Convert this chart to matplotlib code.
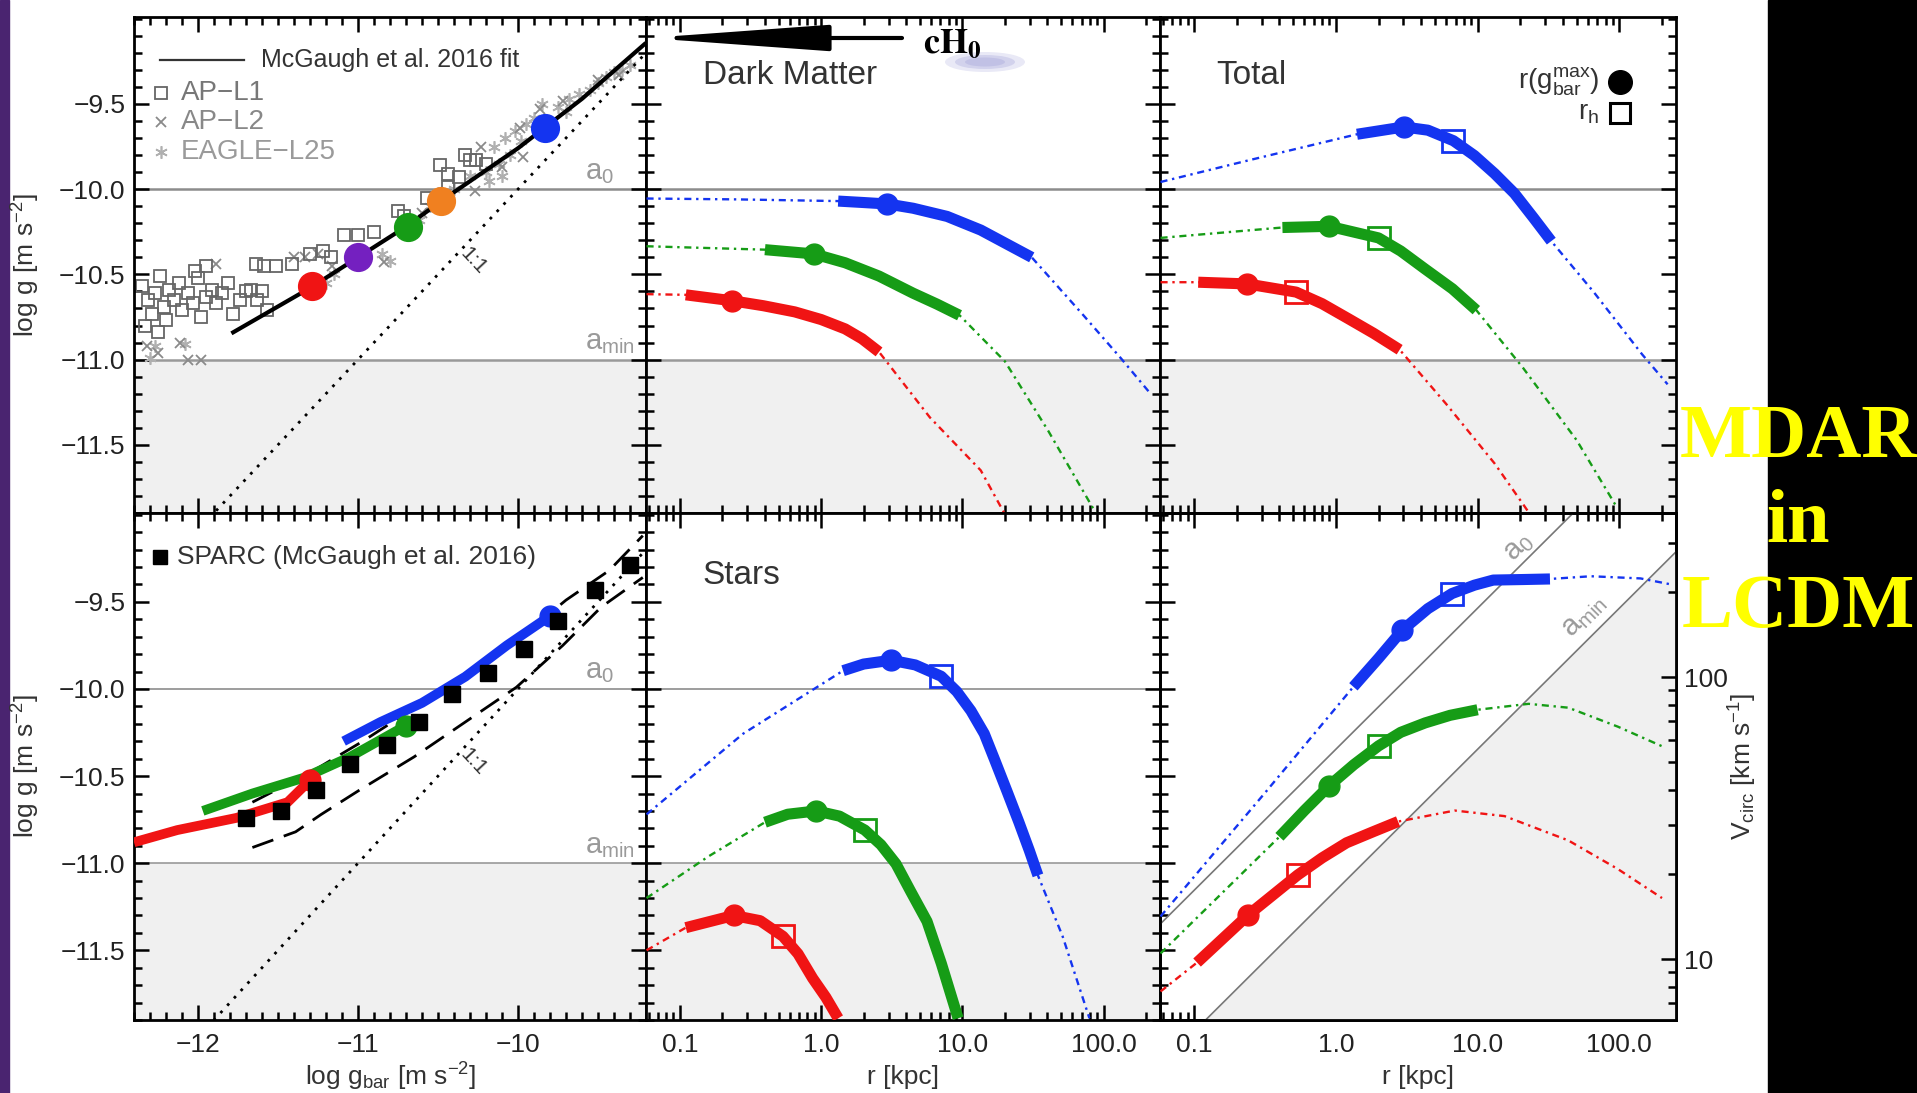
import numpy as np
import matplotlib.pyplot as plt
from matplotlib.ticker import MultipleLocator, FixedLocator, LogLocator, NullFormatter, FuncFormatter
from matplotlib.patches import Rectangle, Ellipse

plt.rcParams['font.family'] = ['Liberation Sans', 'DejaVu Sans']
plt.rcParams['mathtext.fontset'] = 'custom'
plt.rcParams['mathtext.rm'] = 'Liberation Sans'
plt.rcParams['mathtext.it'] = 'Liberation Sans:italic'
plt.rcParams['mathtext.bf'] = 'Liberation Sans:bold'

# ---------------- data ----------------
# top-left: simulated galaxies, log g vs log g_bar
apl1_x = [-12.35, -12.31, -12.29, -12.27, -12.24, -12.21, -12.20, -12.18, -12.15, -12.12,
          -12.10, -12.06, -12.03, -12.00, -11.98, -11.95, -11.91, -11.89, -11.85, -11.81,
          -11.78, -11.74, -11.70, -11.67, -11.63, -11.60, -11.57, -12.02, -11.95, -11.64,
          -11.59, -11.51, -11.41, -11.30, -11.22, -11.17, -11.09, -11.00, -10.90, -10.75,
          -10.71, -10.49, -10.44, -10.33, -10.30, -10.26, -10.20, -10.44, -10.37, -10.57,
          -12.33, -12.25]
apl1_y = [-10.57, -10.65, -10.73, -10.61, -10.51, -10.69, -10.77, -10.59, -10.65, -10.55,
          -10.71, -10.61, -10.67, -10.52, -10.75, -10.63, -10.59, -10.67, -10.61, -10.55,
          -10.73, -10.65, -10.60, -10.59, -10.65, -10.60, -10.71, -10.48, -10.45, -10.44,
          -10.45, -10.45, -10.44, -10.38, -10.36, -10.40, -10.27, -10.27, -10.25, -10.13,
          -10.16, -9.86, -9.91, -9.80, -9.83, -9.83, -9.85, -9.99, -9.93, -10.05,
          -10.80, -10.84]
apl2_x = [-12.32, -12.11, -11.89, -11.40, -11.33, -11.25, -11.16, -10.84, -10.60, -10.27,
          -10.23, -9.97, -9.99, -9.86, -9.72, -9.50, -9.37, -10.10, -12.06, -11.98, -12.25]
apl2_y = [-10.92, -10.90, -10.44, -10.40, -10.40, -10.38, -10.45, -10.43, -10.14, -10.01,
          -9.75, -9.81, -9.64, -9.53, -9.48, -9.36, -9.33, -9.87, -11.00, -11.00, -10.96]
eagle_x = [-10.20, -10.15, -10.12, -10.08, -10.05, -10.02, -9.98, -9.95, -10.10, -10.18,
           -9.90, -9.80, -9.75, -9.68, -9.62, -9.55, -9.50, -9.45, -9.40, -9.35, -9.30,
           -10.55, -10.50, -10.45, -10.62, -10.85, -10.80, -11.20, -11.15, -12.27, -12.08,
           -12.30, -10.40, -10.30, -9.85, -9.70]
eagle_y = [-9.90, -9.75, -9.85, -9.70, -9.80, -9.66, -9.72, -9.62, -9.92, -9.95,
           -9.58, -9.60, -9.52, -9.47, -9.44, -9.42, -9.38, -9.34, -9.31, -9.30, -9.27,
           -10.10, -10.02, -10.08, -10.18, -10.38, -10.42, -10.55, -10.50, -10.92, -10.91,
           -10.99, -10.00, -9.92, -9.50, -9.55]
fit_x = [-11.78, -11.30, -11.00, -10.70, -10.45, -10.00, -9.60, -9.21]
fit_y = [-10.84, -10.58, -10.40, -10.22, -10.05, -9.76, -9.47, -9.15]
gal_x = [-11.29, -11.00, -10.69, -10.48, -9.83]
gal_y = [-10.57, -10.40, -10.22, -10.07, -9.64]
one_to_one = [-12.4, -9.2]

# bottom-left: SPARC and three galaxies
sparc_x = [-11.70, -11.48, -11.26, -11.05, -10.82, -10.62, -10.41, -10.19, -9.96, -9.75, -9.52, -9.30]
sparc_y = [-10.74, -10.70, -10.58, -10.43, -10.32, -10.19, -10.03, -9.91, -9.77, -9.61, -9.43, -9.29]
env_up_x = [-11.66, -11.28, -10.97, -10.60, -10.28, -9.99, -9.70, -9.43, -9.22]
env_up_y = [-10.65, -10.47, -10.30, -10.08, -9.88, -9.71, -9.49, -9.32, -9.12]
env_lo_x = [-11.66, -11.39, -11.23, -10.99, -10.65, -10.33, -10.01, -9.72, -9.48, -9.22]
env_lo_y = [-10.91, -10.82, -10.72, -10.58, -10.39, -10.19, -9.99, -9.75, -9.53, -9.36]
mdar_red_x = [-12.40, -12.13, -11.76, -11.44, -11.34, -11.30]
mdar_red_y = [-10.88, -10.81, -10.74, -10.65, -10.56, -10.52]
mdar_green_x = [-11.97, -11.66, -11.34, -11.05, -10.70]
mdar_green_y = [-10.70, -10.60, -10.51, -10.39, -10.21]
mdar_blue_x = [-11.09, -10.86, -10.60, -10.33, -10.07, -9.83, -9.80]
mdar_blue_y = [-10.30, -10.19, -10.08, -9.93, -9.75, -9.60, -9.58]

# dark matter acceleration profiles (r in kpc, log g)
dm_r_blue = [0.058, 0.25, 1.32, 1.95, 2.95, 4.48, 7.8, 13.5, 21.1, 31.0, 72.0, 132.0, 215.0]
dm_g_blue = [-10.055, -10.06, -10.07, -10.078, -10.087, -10.112, -10.16, -10.24, -10.326, -10.40,
             -10.74, -10.99, -11.20]
dm_r_green = [0.058, 0.40, 0.89, 1.48, 2.57, 4.47, 6.59, 9.55, 20.0, 40.7, 91.0]
dm_g_green = [-10.335, -10.355, -10.38, -10.432, -10.51, -10.61, -10.674, -10.74, -11.01, -11.42, -11.92]
dm_r_red = [0.058, 0.11, 0.235, 0.39, 0.65, 1.0, 1.48, 1.95, 2.57, 5.9, 13.5, 20.4]
dm_g_red = [-10.616, -10.62, -10.655, -10.684, -10.72, -10.765, -10.82, -10.878, -10.955,
            -11.34, -11.65, -11.92]

# total acceleration profiles
tot_r_blue = [0.058, 0.245, 1.41, 3.02, 4.46, 6.76, 9.5, 13.2, 18.2, 24.9, 33.1, 66.0, 145.0, 219.0]
tot_g_blue = [-9.958, -9.83, -9.678, -9.635, -9.654, -9.716, -9.803, -9.909, -10.025, -10.17,
              -10.305, -10.604, -10.97, -11.145]
tot_r_green = [0.058, 0.42, 0.90, 2.0, 2.87, 4.27, 6.65, 9.8, 20.9, 50.0, 95.0]
tot_g_green = [-10.286, -10.225, -10.218, -10.286, -10.363, -10.469, -10.585, -10.71, -11.048,
               -11.473, -11.86]
tot_r_red = [0.058, 0.107, 0.237, 0.525, 0.8, 1.22, 1.85, 2.82, 6.0, 13.2, 21.4, 24.0]
tot_g_red = [-10.546, -10.546, -10.556, -10.604, -10.672, -10.759, -10.846, -10.942, -11.26,
             -11.61, -11.86, -11.92]

# stellar acceleration profiles
st_r_blue = [0.058, 0.28, 1.43, 2.0, 3.14, 4.64, 7.08, 9.14, 11.5, 14.3, 17.0, 20.7, 25.1, 29.8,
             34.3, 51.3, 79.4]
st_g_blue = [-10.72, -10.257, -9.895, -9.857, -9.835, -9.862, -9.927, -10.015, -10.125, -10.257,
             -10.41, -10.587, -10.763, -10.927, -11.07, -11.42, -11.89]
st_r_green = [0.058, 0.16, 0.40, 0.58, 0.925, 1.35, 2.04, 2.65, 3.39, 4.28, 5.62, 7.1, 9.33]
st_g_green = [-11.20, -10.96, -10.765, -10.719, -10.70, -10.73, -10.81, -10.894, -11.004, -11.158,
              -11.334, -11.576, -11.89]
st_r_red = [0.058, 0.11, 0.24, 0.37, 0.537, 0.686, 0.87, 1.08, 1.32]
st_g_red = [-11.50, -11.37, -11.30, -11.33, -11.42, -11.52, -11.66, -11.77, -11.89]

# circular velocity curves (r in kpc, V in km/s)
vc_r_blue = [0.058, 0.32, 1.33, 2.0, 2.95, 4.46, 6.6, 9.5, 12.9, 21.2, 32.4, 63.0, 141.0, 224.0]
vc_v_blue = [14.2, 39.2, 92.5, 116.7, 147.0, 175.0, 198.0, 212.0, 221.0, 222.0, 223.0, 228.0,
             224.0, 214.0]
vc_r_green = [0.058, 0.40, 0.60, 0.90, 1.34, 2.0, 2.87, 4.27, 6.4, 10.0, 22.9, 43.7, 97.7, 209.0]
vc_v_green = [10.5, 27.2, 33.7, 41.3, 49.0, 57.1, 63.8, 68.9, 73.3, 76.7, 80.5, 78.0, 66.8, 56.4]
vc_r_red = [0.058, 0.105, 0.242, 0.537, 0.80, 1.19, 1.85, 2.75, 6.9, 15.5, 43.7, 97.7, 200.0]
vc_v_red = [7.7, 9.75, 14.4, 19.9, 22.9, 25.9, 28.4, 30.8, 33.7, 32.2, 26.4, 20.9, 16.5]

# index range of the resolved (thick) part, r(g_bar max) marker, r_h marker
dm_thick = {'blue': (2, 9), 'green': (1, 7), 'red': (1, 8)}
dm_circ = {'blue': (2.95, -10.087), 'green': (0.89, -10.38), 'red': (0.235, -10.655)}
tot_thick = {'blue': (2, 10), 'green': (1, 7), 'red': (1, 7)}
tot_circ = {'blue': (3.02, -9.635), 'green': (0.90, -10.218), 'red': (0.237, -10.556)}
tot_sq = {'blue': (6.76, -9.716), 'green': (2.0, -10.286), 'red': (0.525, -10.604)}
st_thick = {'blue': (2, 14), 'green': (2, 12), 'red': (1, 8)}
st_circ = {'blue': (3.14, -9.835), 'green': (0.925, -10.70), 'red': (0.24, -11.30)}
st_sq = {'blue': (7.08, -9.927), 'green': (2.04, -10.81), 'red': (0.537, -11.42)}
vc_thick = {'blue': (2, 10), 'green': (1, 9), 'red': (1, 7)}
vc_circ = {'blue': (2.95, 147.0), 'green': (0.90, 41.3), 'red': (0.242, 14.4)}
vc_sq = {'blue': (6.6, 198.0), 'green': (2.0, 57.1), 'red': (0.537, 19.9)}

log_a0 = -10.0
log_amin = -11.0
kpc = 3.086e19

r_ticks = [0.1, 1.0, 10.0, 100.0]
r_ticklabels = ['0.1', '1.0', '10.0', '100.0']
g_ticks = [-11.5, -11.0, -10.5, -10.0, -9.5]
gbar_ticks = [-12, -11, -10]

# ---------------- styles ----------------
RED, GREEN, BLUE = '#f01414', '#169c16', '#1434f0'
PURPLE, ORANGE = '#7420c0', '#f08020'
SHADE = '#f0f0f0'
GREY = '#8c8c8c'
DOT = (0, (3, 2, 1, 2))

W, H = 1917, 1093
fig = plt.figure(figsize=(W / 100, H / 100), dpi=100)
fig.patch.set_facecolor('white')


def px_box(x0, y0, x1, y1):
    return [x0 / W, 1 - y1 / H, (x1 - x0) / W, (y1 - y0) / H]


col_x = [134, 646, 1160, 1676]
row_y = [17, 513, 1020]
axs = [[fig.add_axes(px_box(col_x[c], row_y[r], col_x[c + 1], row_y[r + 1]))
        for c in range(3)] for r in range(2)]

minus = lambda s: s.replace('-', '\u2212')


def style(ax, logx, row, col):
    for s in ax.spines.values():
        s.set_linewidth(2)
    ax.tick_params(which='both', direction='in', top=True, right=True, width=1.8,
                   labelsize=19, labelcolor='#222222')
    ax.tick_params(which='major', length=11)
    ax.tick_params(which='minor', length=6)
    ax.tick_params(axis='x', pad=9)
    ax.tick_params(axis='y', pad=6)
    ax.set_ylim(-11.9, -8.99)
    ax.yaxis.set_major_locator(FixedLocator(g_ticks))
    ax.yaxis.set_minor_locator(MultipleLocator(0.1))
    ax.yaxis.set_major_formatter(FuncFormatter(lambda v, p: minus(f'{v:.1f}')))
    if logx:
        ax.set_xscale('log')
        ax.set_xlim(0.0575, 251)
        ax.set_xticks(r_ticks)
        ax.set_xticklabels(r_ticklabels)
        ax.xaxis.set_minor_locator(LogLocator(base=10, subs=np.arange(2, 10)))
        ax.xaxis.set_minor_formatter(NullFormatter())
    else:
        ax.set_xlim(-12.4, -9.2)
        ax.xaxis.set_major_locator(FixedLocator(gbar_ticks))
        ax.xaxis.set_minor_locator(MultipleLocator(0.1))
        ax.xaxis.set_major_formatter(FuncFormatter(lambda v, p: minus(f'{v:.0f}')))
    ax.tick_params(labelbottom=(row == 1), labelleft=(col == 0))


for r in range(2):
    for c in range(3):
        style(axs[r][c], c > 0, r, c)

# horizontal reference lines and shading (all panels but bottom-right)
for r in range(2):
    for c in range(3):
        if r == 1 and c == 2:
            continue
        ax = axs[r][c]
        ax.axhspan(-12.5, log_amin, color=SHADE, zorder=0, lw=0)
        lw = 1.8 if r == 0 else 1.2
        ax.axhline(log_a0, color=GREY, lw=lw, zorder=1)
        ax.axhline(log_amin, color='#999999', lw=lw, zorder=1)

# ---- left panels: labels a0 / amin and 1:1 ----
for ax in (axs[0][0], axs[1][0]):
    ax.text(0.88, log_a0 + 0.02, r'a$_0$', transform=ax.get_yaxis_transform(),
            color='#9a9a9a', fontsize=21, va='bottom', ha='left')
    ax.text(0.88, log_amin + 0.02, r'a$_{\rm min}$', transform=ax.get_yaxis_transform(),
            color='#9a9a9a', fontsize=21, va='bottom', ha='left')
    ax.plot(one_to_one, one_to_one, color='k', lw=2, ls=(0, (1, 2.6)), zorder=3)
    ax.text(-10.28, -10.42, '1:1', fontsize=15, rotation=-47, color='#333333',
            ha='center', va='center', zorder=3)

# ---- top-left ----
ax = axs[0][0]
ax.plot(eagle_x, eagle_y, ls='none', marker=(6, 2, 0), ms=9, mew=1.2, color='#b0b0b0', zorder=2)
ax.plot(apl2_x, apl2_y, ls='none', marker='x', ms=7, mew=1.3, color='#8a8a8a', zorder=2)
ax.plot(apl1_x, apl1_y, ls='none', marker='s', ms=8, mew=1.3, mfc='none', mec='#666666', zorder=2)
ax.plot(fit_x, fit_y, color='k', lw=3, zorder=4)
for x, y, col in zip(gal_x, gal_y, [RED, PURPLE, GREEN, ORANGE, BLUE]):
    ax.plot(x, y, 'o', ms=20, color=col, zorder=5)
ax.plot([0.051, 0.215], [0.913, 0.913], color='#333333', lw=1.6, transform=ax.transAxes)
ax.text(0.248, 0.913, 'McGaugh et al. 2016 fit', transform=ax.transAxes, fontsize=18,
        va='center', color='#333333')
ax.plot(0.053, 0.847, 's', ms=8, mfc='none', mec='#666666', mew=1.3, transform=ax.transAxes)
ax.text(0.092, 0.847, 'AP\u2212L1', transform=ax.transAxes, fontsize=20, va='center', color='#777777')
ax.plot(0.053, 0.788, 'x', ms=7, mew=1.3, color='#8a8a8a', transform=ax.transAxes)
ax.text(0.092, 0.788, 'AP\u2212L2', transform=ax.transAxes, fontsize=20, va='center', color='#888888')
ax.plot(0.053, 0.728, marker=(6, 2, 0), ms=9, mew=1.2, color='#b0b0b0', transform=ax.transAxes)
ax.text(0.092, 0.728, 'EAGLE\u2212L25', transform=ax.transAxes, fontsize=20, va='center', color='#9a9a9a')

# ---- bottom-left ----
ax = axs[1][0]
ax.plot(env_up_x, env_up_y, color='k', lw=2, ls=(0, (8, 4)), zorder=3)
ax.plot(env_lo_x, env_lo_y, color='k', lw=2, ls=(0, (8, 4)), zorder=3)
ax.plot(mdar_red_x, mdar_red_y, color=RED, lw=7, zorder=4, solid_capstyle='butt')
ax.plot(mdar_green_x, mdar_green_y, color=GREEN, lw=7, zorder=4, solid_capstyle='butt')
ax.plot(mdar_blue_x, mdar_blue_y, color=BLUE, lw=7, zorder=4, solid_capstyle='butt')
for xs, ys, col in ((mdar_red_x, mdar_red_y, RED), (mdar_green_x, mdar_green_y, GREEN),
                    (mdar_blue_x, mdar_blue_y, BLUE)):
    ax.plot(xs[-1], ys[-1], 'o', ms=15, color=col, zorder=5)
ax.plot(sparc_x, sparc_y, 's', ms=11, color='k', zorder=6)
ax.plot(0.051, 0.913, 's', ms=10, color='k', transform=ax.transAxes)
ax.text(0.084, 0.913, 'SPARC (McGaugh et al. 2016)', transform=ax.transAxes, fontsize=19,
        va='center', color='#333333')


def profile(ax, rr, vv, thick, col, circ, sq=None):
    ax.plot(rr, vv, color=col, lw=1.7, ls=DOT, zorder=3)
    i0, i1 = thick
    ax.plot(rr[i0:i1 + 1], vv[i0:i1 + 1], color=col, lw=8, zorder=4,
            solid_capstyle='butt', solid_joinstyle='round')
    ax.plot(*circ, 'o', ms=15, color=col, zorder=5)
    if sq is not None:
        ax.plot(*sq, 's', ms=16, mfc='none', mec=col, mew=2, zorder=6)


# ---- dark matter ----
ax = axs[0][1]
profile(ax, dm_r_red, dm_g_red, dm_thick['red'], RED, dm_circ['red'])
profile(ax, dm_r_green, dm_g_green, dm_thick['green'], GREEN, dm_circ['green'])
profile(ax, dm_r_blue, dm_g_blue, dm_thick['blue'], BLUE, dm_circ['blue'])
ax.text(0.111, 0.883, 'Dark Matter', transform=ax.transAxes, fontsize=24, va='center', color='#333333')

# ---- total ----
ax = axs[0][2]
profile(ax, tot_r_red, tot_g_red, tot_thick['red'], RED, tot_circ['red'], tot_sq['red'])
profile(ax, tot_r_green, tot_g_green, tot_thick['green'], GREEN, tot_circ['green'], tot_sq['green'])
profile(ax, tot_r_blue, tot_g_blue, tot_thick['blue'], BLUE, tot_circ['blue'], tot_sq['blue'])
ax.text(0.109, 0.883, 'Total', transform=ax.transAxes, fontsize=24, va='center', color='#333333')
ax.text(0.851, 0.869, r'r(g$_{\rm bar}^{\rm max}$)', transform=ax.transAxes, fontsize=20,
        va='center', ha='right', color='#333333')
ax.plot(0.891, 0.869, 'o', ms=17, color='k', transform=ax.transAxes)
ax.text(0.851, 0.806, r'r$_{\rm h}$', transform=ax.transAxes, fontsize=20,
        va='center', ha='right', color='#333333')
ax.plot(0.891, 0.806, 's', ms=14, mfc='none', mec='k', mew=2.2, transform=ax.transAxes)

# ---- stars ----
ax = axs[1][1]
profile(ax, st_r_red, st_g_red, st_thick['red'], RED, st_circ['red'], st_sq['red'])
profile(ax, st_r_green, st_g_green, st_thick['green'], GREEN, st_circ['green'], st_sq['green'])
profile(ax, st_r_blue, st_g_blue, st_thick['blue'], BLUE, st_circ['blue'], st_sq['blue'])
ax.text(0.109, 0.876, 'Stars', transform=ax.transAxes, fontsize=24, va='center', color='#333333')

# ---- circular velocity ----
ax = axs[1][2]
ax.tick_params(axis='y', which='both', right=False)
ax2 = ax.twinx()
ax2.set_yscale('log')
ax2.set_ylim(6.1, 382)
ax2.set_xlim(0.0575, 251)
for s in ax2.spines.values():
    s.set_linewidth(2)
ax2.tick_params(which='both', direction='in', left=False, right=True, width=1.8,
                labelsize=19, labelcolor='#222222', pad=6)
ax2.tick_params(which='major', length=11)
ax2.tick_params(which='minor', length=6)
ax2.yaxis.set_major_locator(FixedLocator([10, 100]))
ax2.yaxis.set_major_formatter(FuncFormatter(lambda v, p: f'{v:.0f}'))
ax2.yaxis.set_minor_locator(LogLocator(base=10, subs=np.arange(2, 10)))
ax2.yaxis.set_minor_formatter(NullFormatter())

r_line = np.array([0.03, 400.0])
v_a0 = np.sqrt(10 ** log_a0 * kpc * r_line) / 1e3
v_amin = np.sqrt(10 ** log_amin * kpc * r_line) / 1e3
ax2.fill_between(r_line, 1, v_amin, color=SHADE, lw=0, zorder=0)
ax2.plot(r_line, v_a0, color='#777777', lw=1.2, zorder=1)
ax2.plot(r_line, v_amin, color='#777777', lw=1.2, zorder=1)
ax2.text(19.5, 290, r'a$_0$', rotation=45, fontsize=21, color='#9a9a9a', ha='center', va='center')
ax2.text(56, 165, r'a$_{\rm min}$', rotation=45, fontsize=21, color='#9a9a9a', ha='center', va='center')
profile(ax2, vc_r_red, vc_v_red, vc_thick['red'], RED, vc_circ['red'], vc_sq['red'])
profile(ax2, vc_r_green, vc_v_green, vc_thick['green'], GREEN, vc_circ['green'], vc_sq['green'])
profile(ax2, vc_r_blue, vc_v_blue, vc_thick['blue'], BLUE, vc_circ['blue'], vc_sq['blue'])

# ---- axis labels ----
lab = dict(fontsize=19, color='#333333', ha='center', va='center')
fig.text(0.0135, 0.7575, r'log g [m s$^{-2}$]', rotation=90, **lab)
fig.text(0.0135, 0.2992, r'log g [m s$^{-2}$]', rotation=90, **lab)
fig.text(0.204, 0.0146, r'log g$_{\rm bar}$ [m s$^{-2}$]', **lab)
fig.text(903 / W, 0.0146, 'r [kpc]', **lab)
fig.text(1418 / W, 0.0146, 'r [kpc]', **lab)
fig.text(1743 / W, 0.2983, r'V$_{\rm circ}$ [km s$^{-1}$]', rotation=90, **lab)

# ---- slide overlays ----
fig.add_artist(Rectangle((0, 0), 9 / W, 1, transform=fig.transFigure, color='#4a2470', zorder=0.5))
fig.add_artist(Rectangle((1768 / W, 0), 1 - 1768 / W, 1, transform=fig.transFigure,
                         color='black', zorder=0.5))
for w, h, a in ((80, 20, 0.25), (60, 14, 0.35), (40, 9, 0.4)):
    fig.add_artist(Ellipse((985 / W, 1 - 62 / H), w / W, h / H, transform=fig.transFigure,
                           color='#a8a8dc', alpha=a, lw=0, zorder=6))
fig.text(923 / W, 1 - 53 / H, r'$\mathbf{cH_0}$', math_fontfamily='stix', fontsize=26,
         color='k', ha='left', va='baseline', zorder=7)
fig.add_artist(plt.Annotation('', xy=(648 / W, 1 - 38 / H), xytext=(902 / W, 1 - 38 / H),
                              xycoords='figure fraction', textcoords='figure fraction',
                              arrowprops=dict(arrowstyle='-|>,head_length=11,head_width=0.8',
                                              mutation_scale=10, lw=3, color='k', fc='k',
                                              shrinkA=0, shrinkB=0)))
big = dict(fontsize=55, color='#ffff00', fontweight='bold', ha='center', va='baseline',
           family='Liberation Serif', zorder=7)
fig.text(1798 / W, 1 - 457 / H, 'MDAR', **big)
fig.text(1798 / W, 1 - 542 / H, 'in', **big)
fig.text(1798 / W, 1 - 627 / H, 'LCDM', **big)

fig.savefig('out.png', dpi=100)
